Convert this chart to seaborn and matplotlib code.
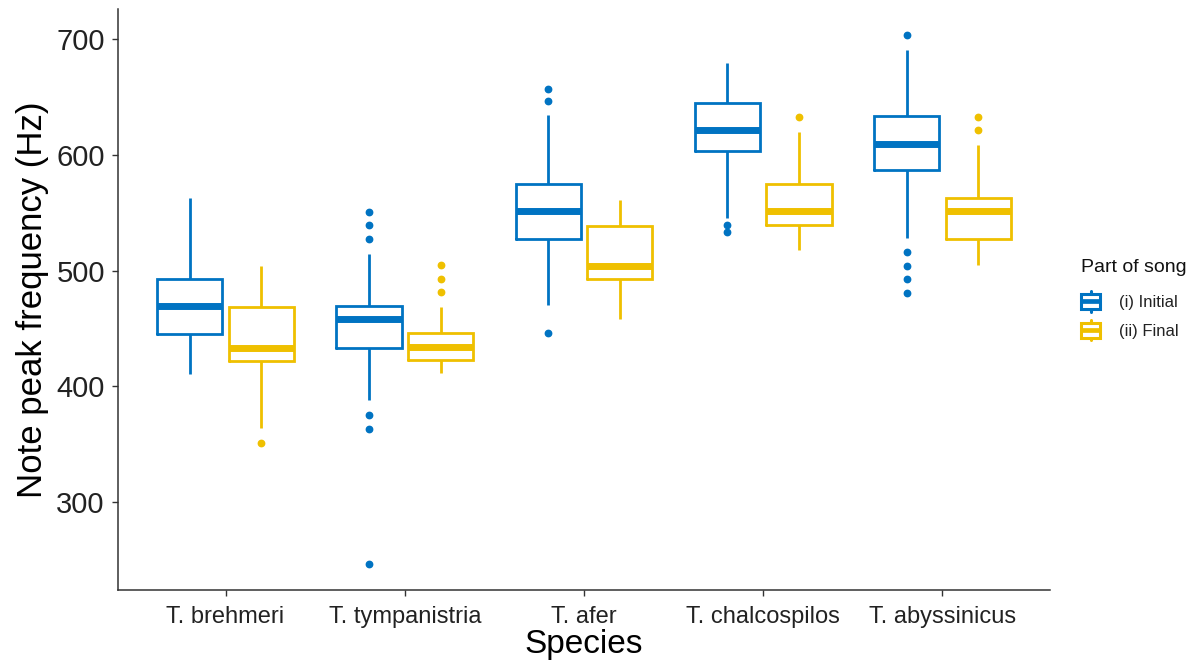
import matplotlib
matplotlib.use("Agg")
import matplotlib.pyplot as plt
from matplotlib.patches import Rectangle, Patch
from matplotlib.lines import Line2D
from matplotlib.legend_handler import HandlerBase
import pandas as pd
import seaborn as sns

# Categories
species = ["T. brehmeri", "T. tympanistria", "T. afer", "T. chalcospilos", "T. abyssinicus"]
parts = ["(i) Initial", "(ii) Final"]
colors = ["#0073C2", "#EFC000"]

# Box summaries (Hz), initial part of song
initial_whislo = [411.0, 388.0, 470.0, 545.4, 528.0]
initial_q1 = [445.5, 433.5, 527.6, 603.0, 586.5]
initial_median = [469.0, 458.0, 551.0, 621.6, 609.5]
initial_q3 = [493.0, 469.0, 574.7, 644.5, 633.0]
initial_whishi = [562.5, 514.0, 634.0, 679.0, 690.0]
initial_outliers = [
    [],
    [550.5, 538.9, 527.3, 375.0, 363.6, 247.0],
    [656.9, 646.0, 446.0],
    [539.7, 533.0],
    [703.2, 515.8, 504.3, 492.8, 480.8],
]

# Box summaries (Hz), final part of song
final_whislo = [364.0, 411.2, 458.0, 518.0, 504.6]
final_q1 = [422.0, 423.0, 492.8, 539.0, 527.6]
final_median = [433.5, 434.0, 503.7, 551.0, 551.0]
final_q3 = [468.5, 446.3, 538.8, 574.7, 562.7]
final_whishi = [504.0, 468.4, 561.0, 620.0, 608.6]
final_outliers = [
    [351.5],
    [505.0, 493.0, 481.5],
    [],
    [632.5],
    [632.5, 621.0],
]


def expand_group(lo, q1, med, q3, hi, outliers):
    """Observations whose quartiles, whisker ends and outliers equal the summary."""
    below = sorted(v for v in outliers if v < lo) + [lo]
    above = [hi] + sorted(v for v in outliers if v > hi)
    m = max(len(below), len(above))
    return (below + [q1] * (2 * m - len(below)) + [med]
            + [q3] * (2 * m - len(above)) + above)


rows = []
groups = [
    (parts[0], initial_whislo, initial_q1, initial_median, initial_q3, initial_whishi, initial_outliers),
    (parts[1], final_whislo, final_q1, final_median, final_q3, final_whishi, final_outliers),
]
for part, los, q1s, meds, q3s, his, outs in groups:
    for sp, lo, q1, md, q3, hi, out in zip(species, los, q1s, meds, q3s, his, outs):
        for v in expand_group(lo, q1, md, q3, hi, out):
            rows.append((sp, part, v))
df = pd.DataFrame(rows, columns=["Species", "Part of song", "Frequency"])

sns.set_theme(style="ticks")
plt.rcParams["font.family"] = ["Liberation Sans", "DejaVu Sans"]

fig = plt.figure(figsize=(12, 6.62), dpi=100)
ax = fig.add_axes([118 / 1200, 72 / 662, 932 / 1200, 581 / 662])

palette = dict(zip(parts, colors))
sns.boxplot(
    data=df, x="Species", y="Frequency", hue="Part of song",
    order=species, hue_order=parts, palette=palette,
    fill=False, width=0.8, gap=0.09, linewidth=2.0, whis=1.5,
    showcaps=False,
    medianprops={"linewidth": 5.0},
    boxprops={"solid_joinstyle": "miter"},
    flierprops={"marker": "o", "markersize": 4.6, "markeredgewidth": 1.0},
    legend=False, ax=ax,
)

# solid outlier dots
for line in ax.lines:
    if line.get_marker() == "o":
        line.set_markerfacecolor(line.get_markeredgecolor())

ax.set_xlim(-0.6, len(species) - 0.4)
ax.set_ylim(224.2, 725.8)
ax.set_yticks([300, 400, 500, 600, 700])

for side in ["top", "right"]:
    ax.spines[side].set_visible(False)
for side in ["left", "bottom"]:
    ax.spines[side].set_color("#333333")
    ax.spines[side].set_linewidth(1.1)

ax.tick_params(axis="both", direction="out", length=4.5, width=1.0, color="#333333")
ax.tick_params(axis="y", labelsize=21, pad=5, labelcolor="#222222")
ax.tick_params(axis="x", labelsize=17, pad=7, labelcolor="#222222")

ax.set_xlabel("Species", fontsize=24, labelpad=1, color="black")
ax.set_ylabel("Note peak frequency (Hz)", fontsize=25, labelpad=5, color="black")


class BoxKey(HandlerBase):
    """Legend key drawn as a small box with median and whiskers."""

    def create_artists(self, legend, orig_handle, xdescent, ydescent,
                       width, height, fontsize, trans):
        c = orig_handle.get_edgecolor()
        x0, y0 = -xdescent, -ydescent
        cx = x0 + width / 2
        box_h = height * 0.74
        by = y0 + (height - box_h) / 2
        rect = Rectangle((x0, by), width, box_h, fill=False, edgecolor=c,
                         lw=2.2, joinstyle="miter", transform=trans)
        med = Line2D([x0, x0 + width], [y0 + height / 2] * 2, color=c, lw=3.4,
                     solid_capstyle="butt", transform=trans)
        w_lo = Line2D([cx, cx], [y0, by], color=c, lw=2.2, transform=trans)
        w_hi = Line2D([cx, cx], [by + box_h, y0 + height], color=c, lw=2.2, transform=trans)
        return [w_lo, w_hi, rect, med]


handles = [Patch(edgecolor=c, facecolor="none") for c in colors]
leg = fig.legend(
    handles, parts, title="Part of song",
    loc="upper left", bbox_to_anchor=(1081 / 1200, 1 - 259 / 662),
    frameon=False, borderpad=0, borderaxespad=0,
    handlelength=1.15, handleheight=1.5, handletextpad=1.15,
    labelspacing=0.5, fontsize=12, title_fontsize=14, alignment="left",
    handler_map={Patch: BoxKey()},
)
leg._legend_box.sep = 11
for t in leg.get_texts():
    t.set_color("#222222")
leg.get_title().set_color("#111111")

fig.savefig("out.png", dpi=100)
